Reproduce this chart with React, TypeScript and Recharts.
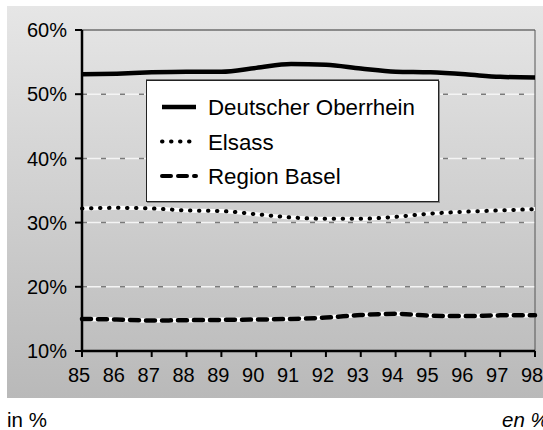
import { LineChart, Line, XAxis, YAxis, ReferenceLine, Legend } from 'recharts';

const years = ['85', '86', '87', '88', '89', '90', '91', '92', '93', '94', '95', '96', '97', '98'];
const oberrhein = [53.1, 53.2, 53.4, 53.5, 53.5, 54.1, 54.7, 54.6, 54.0, 53.5, 53.4, 53.1, 52.7, 52.6];
const elsass = [32.2, 32.3, 32.2, 31.9, 31.8, 31.3, 30.8, 30.6, 30.6, 30.9, 31.4, 31.7, 31.9, 32.1];
const basel = [15.0, 14.9, 14.75, 14.8, 14.85, 14.9, 15.0, 15.2, 15.6, 15.8, 15.5, 15.45, 15.55, 15.55];
const yTicks = [10, 20, 30, 40, 50, 60];
const gridLines = [20, 30, 40, 50];
const seriesNames = ['Deutscher Oberrhein', 'Elsass', 'Region Basel'];
const footerLeft = 'in %';
const footerRight = 'en %';

const FONT = '"Liberation Sans", Arial, sans-serif';

const data = years.map((year, i) => ({
  year,
  oberrhein: oberrhein[i],
  elsass: elsass[i],
  basel: basel[i],
}));

const sampleStyles = [
  { dash: undefined, width: 4.5 },
  { dash: '0.5 8.5', width: 4 },
  { dash: '9 7', width: 4 },
];

function LegendBox() {
  return (
    <div
      style={{
        width: 291,
        height: 120,
        background: '#fff',
        border: '1px solid #222',
        boxShadow: '0 -1px 0 #777, 1px 1px 0 #888',
        fontFamily: FONT,
      }}
    >
      <svg width={291} height={120}>
        {seriesNames.map((name, i) => {
          const y = 26 + i * 34.5;
          return (
            <g key={name}>
              <line
                x1={15}
                x2={49}
                y1={y}
                y2={y}
                stroke="#000"
                strokeWidth={sampleStyles[i].width}
                strokeDasharray={sampleStyles[i].dash}
                strokeLinecap={i === 0 ? 'butt' : 'round'}
              />
              <text x={61} y={y + 8} fontSize={22.3} fill="#000">
                {name}
              </text>
            </g>
          );
        })}
      </svg>
    </div>
  );
}

export default function App() {
  return (
    <div style={{ position: 'absolute', left: 0, top: 0, width: 543, height: 430, background: '#fff', overflow: 'hidden' }}>
      <div
        style={{
          position: 'absolute',
          left: 7,
          top: 6,
          width: 540,
          height: 392,
          background: 'linear-gradient(#e6e6e6, #b9b9b9)',
        }}
      />
      <div style={{ position: 'absolute', left: 0, top: 0 }}>
        <LineChart width={543} height={430} data={data} margin={{ top: 30, right: 8, bottom: 49, left: 22 }}>
          {gridLines.map((v) => (
            <ReferenceLine key={`w${v}`} y={v} stroke="#f4f4f4" strokeWidth={1.5} />
          ))}
          {gridLines.map((v) => (
            <ReferenceLine key={`d${v}`} y={v} stroke="#7a7a7a" strokeWidth={1.5} strokeDasharray="5 14" />
          ))}
          <ReferenceLine y={60} stroke="#333" strokeWidth={1} />
          <ReferenceLine x="98" stroke="#555" strokeWidth={1} />
          <XAxis
            dataKey="year"
            axisLine={{ stroke: '#000', strokeWidth: 2.5 }}
            tickLine={{ stroke: '#000', strokeWidth: 2 }}
            tickSize={6}
            tickMargin={11}
            interval={0}
            height={30}
            tick={{ fill: '#000', fontSize: 20, fontFamily: FONT, dx: -3 }}
          />
          <YAxis
            domain={[10, 60]}
            ticks={yTicks}
            width={60}
            tickFormatter={(v) => `${v}%`}
            axisLine={{ stroke: '#000', strokeWidth: 2.5 }}
            tickLine={{ stroke: '#000', strokeWidth: 2 }}
            tickSize={7}
            tickMargin={8}
            tick={{ fill: '#000', fontSize: 20, fontFamily: FONT }}
          />
          <Line
            dataKey="oberrhein"
            name={seriesNames[0]}
            type="monotone"
            stroke="#000"
            strokeWidth={4.5}
            dot={false}
            activeDot={false}
            isAnimationActive={false}
          />
          <Line
            dataKey="elsass"
            type="monotone"
            stroke="#fff"
            strokeWidth={4}
            dot={false}
            activeDot={false}
            legendType="none"
            isAnimationActive={false}
          />
          <Line
            dataKey="elsass"
            name={seriesNames[1]}
            type="monotone"
            stroke="#000"
            strokeWidth={4}
            strokeDasharray="0.5 8.5"
            strokeLinecap="round"
            dot={false}
            activeDot={false}
            isAnimationActive={false}
          />
          <Line
            dataKey="basel"
            type="monotone"
            stroke="#fff"
            strokeWidth={4.5}
            dot={false}
            activeDot={false}
            legendType="none"
            isAnimationActive={false}
          />
          <Line
            dataKey="basel"
            name={seriesNames[2]}
            type="monotone"
            stroke="#000"
            strokeWidth={4.5}
            strokeDasharray="9 7"
            strokeLinecap="round"
            dot={false}
            activeDot={false}
            isAnimationActive={false}
          />
          <Legend
            layout="horizontal"
            verticalAlign="middle"
            align="center"
            content={() => <LegendBox />}
            wrapperStyle={{ left: 146, top: 80, width: 293, height: 122 }}
          />
        </LineChart>
      </div>
      <div style={{ position: 'absolute', left: 7, top: 408, fontFamily: FONT, fontSize: 20.5, color: '#000' }}>
        {footerLeft}
      </div>
      <div
        style={{
          position: 'absolute',
          left: 502,
          top: 408,
          fontFamily: FONT,
          fontSize: 20.5,
          fontStyle: 'italic',
          color: '#000',
          whiteSpace: 'nowrap',
        }}
      >
        {footerRight}
      </div>
    </div>
  );
}
